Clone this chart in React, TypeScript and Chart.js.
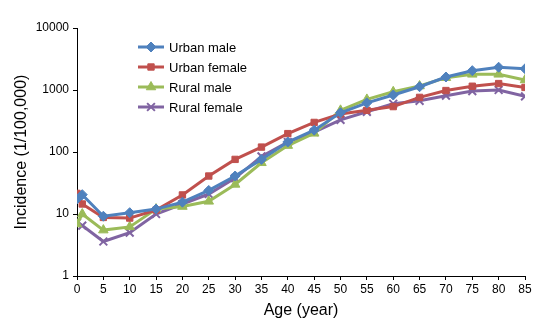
import React, { useEffect, useRef } from "react";
import { Chart, registerables } from "chart.js";
import { drawPoint } from "chart.js/helpers";

Chart.register(...registerables);

const ages = [0, 1, 5, 10, 15, 20, 25, 30, 35, 40, 45, 50, 55, 60, 65, 70, 75, 80, 85];
const urbanMale = [17.5, 20.5, 9.2, 10.5, 12, 15.5, 24, 41, 76, 145, 225, 430, 620, 830, 1130, 1620, 2050, 2330, 2200];
const urbanFemale = [21.5, 14.5, 8.8, 8.6, 11.6, 20.3, 41, 76, 120, 198, 300, 410, 470, 540, 760, 980, 1150, 1270, 1100];
const ruralMale = [6.9, 10, 5.5, 6.2, 12, 13.2, 16, 30, 67, 127, 200, 470, 705, 935, 1160, 1580, 1790, 1790, 1450];
const ruralFemale = [7.3, 6.5, 3.6, 5, 10, 14.5, 21, 38, 85, 145, 210, 330, 445, 600, 670, 810, 960, 1000, 790];
const yTicks = [1, 10, 100, 1000, 10000];
const seriesNames = ["Urban male", "Urban female", "Rural male", "Rural female"];

const FONT = "'Liberation Sans', Arial, sans-serif";

const legendPlugin = {
  id: "insideLegend",
  afterDraw(chart: any) {
    const ctx = chart.ctx;
    const x0 = 138;
    const y0 = 47;
    const step = 20;
    ctx.save();
    chart.data.datasets.forEach((ds: any, i: number) => {
      const y = y0 + i * step;
      ctx.strokeStyle = ds.borderColor;
      ctx.lineWidth = 3;
      ctx.beginPath();
      ctx.moveTo(x0, y);
      ctx.lineTo(x0 + 26, y);
      ctx.stroke();
      ctx.fillStyle = ds.borderColor;
      ctx.strokeStyle = ds.borderColor;
      ctx.lineWidth = ds.pointBorderWidth;
      drawPoint(ctx, {
        pointStyle: ds.pointStyle,
        radius: ds.pointRadius,
        borderWidth: ds.pointBorderWidth,
        rotation: 0,
      } as any, x0 + 13, y);
      ctx.fillStyle = "#000";
      ctx.font = `13px ${FONT}`;
      ctx.textBaseline = "middle";
      ctx.textAlign = "left";
      ctx.fillText(ds.label, x0 + 31, y + 1);
    });
    ctx.restore();
  },
};

export default function App() {
  const ref = useRef<HTMLCanvasElement>(null);
  useEffect(() => {
    if (!ref.current) return;
    const mk = (label: string, data: number[], color: string, style: string, r: number) => ({
      label,
      data: ages.map((a, i) => ({ x: a, y: data[i] })),
      borderColor: color,
      backgroundColor: color,
      pointBackgroundColor: color,
      pointBorderColor: color,
      borderWidth: 3,
      pointStyle: style,
      pointRadius: r,
      pointBorderWidth: style === "crossRot" ? 2 : 1,
      tension: 0,
    });
    const chart = new Chart(ref.current, {
      type: "line",
      data: {
        datasets: [
          mk(seriesNames[0], urbanMale, "#4F81BD", "rectRot", 5),
          mk(seriesNames[1], urbanFemale, "#C0504D", "rect", 4.5),
          mk(seriesNames[2], ruralMale, "#9BBB59", "triangle", 5.5),
          mk(seriesNames[3], ruralFemale, "#8064A2", "crossRot", 5.5),
        ] as any,
      },
      options: {
        responsive: false,
        animation: false,
        layout: { padding: { top: 28, right: 32, left: 0, bottom: 0 } },
        plugins: { legend: { display: false }, tooltip: { enabled: false } },
        scales: {
          x: {
            type: "linear",
            min: 0,
            max: 85,
            ticks: { stepSize: 5, color: "#000", font: { family: FONT, size: 12 }, maxRotation: 0, padding: 2 },
            grid: { display: true, drawOnChartArea: false, color: "#000", tickLength: 4 },
            border: { color: "#000", width: 1 },
            title: { display: true, text: "Age (year)", color: "#000", font: { family: FONT, size: 16 }, padding: { top: 1 } },
            afterFit(scale: any) {
              scale.height = 48;
            },
          },
          y: {
            type: "logarithmic",
            min: 1,
            max: 10000,
            afterBuildTicks(scale: any) {
              scale.ticks = yTicks.map((v) => ({ value: v }));
            },
            ticks: {
              color: "#000",
              font: { family: FONT, size: 12 },
              padding: 4,
              callback: (v: any) => String(v),
            },
            grid: { display: true, drawOnChartArea: false, color: "#000", tickLength: 4 },
            border: { color: "#000", width: 1 },
            title: { display: true, text: "Incidence (1/100,000)", color: "#000", font: { family: FONT, size: 16 }, padding: { top: 12, bottom: 0 } },
            afterFit(scale: any) {
              scale.width = 77;
            },
          },
        },
      },
      plugins: [legendPlugin],
    });
    return () => chart.destroy();
  }, []);
  return (
    <div style={{ position: "fixed", left: 0, top: 0, width: 557, height: 324, background: "#fff" }}>
      <canvas ref={ref} width={557} height={324} style={{ width: 557, height: 324 }} />
    </div>
  );
}
